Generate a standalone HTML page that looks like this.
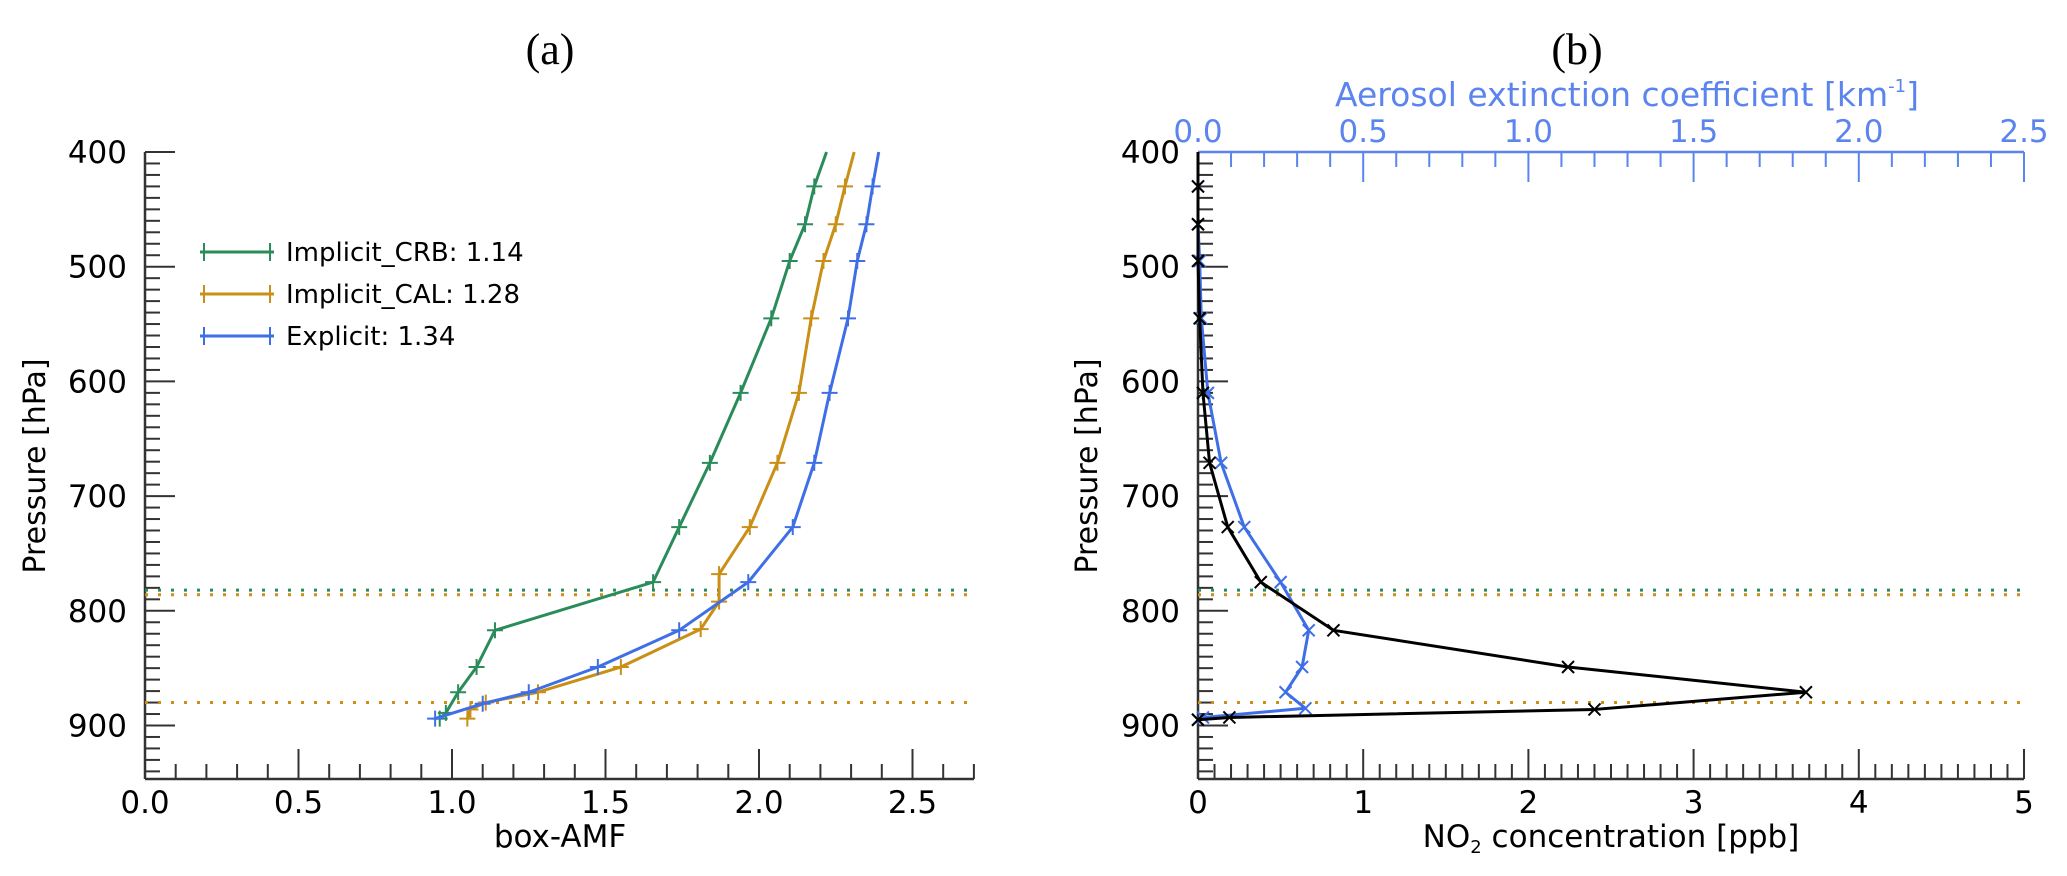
<!DOCTYPE html>
<html><head><meta charset="utf-8"><style>
html,body{margin:0;padding:0;background:#fff;}
svg{display:block;font-family:"DejaVu Sans","Liberation Sans",sans-serif;}
</style></head><body>
<svg id="fig" width="2067" height="876" viewBox="0 0 2067 876" xmlns="http://www.w3.org/2000/svg">
<text x="550" y="64" font-family="Liberation Serif, serif" font-size="44" text-anchor="middle">(a)</text>
<text x="1577" y="64" font-family="Liberation Serif, serif" font-size="44" text-anchor="middle">(b)</text>
</svg>
<script>
// ---- Data ----
const amfCrbP = [400,430,463,495,545,610,671,727,775,817,849,871,889,894];
const amfCrbX = [2.22,2.18,2.15,2.10,2.04,1.94,1.84,1.74,1.655,1.14,1.08,1.02,0.98,0.96];
const amfCalP = [400,430,463,495,545,610,671,727,768,792,816,849,871,880,886,894];
const amfCalX = [2.31,2.28,2.25,2.21,2.17,2.13,2.06,1.97,1.87,1.87,1.81,1.55,1.28,1.11,1.06,1.05];
const amfExpP = [400,430,463,495,545,610,671,727,775,817,849,871,881,894];
const amfExpX = [2.39,2.37,2.35,2.32,2.29,2.23,2.18,2.11,1.965,1.74,1.475,1.25,1.10,0.945];
const legendLabels = ["Implicit_CRB: 1.14","Implicit_CAL: 1.28","Explicit: 1.34"];
const no2P = [400,430,463,495,545,610,671,727,775,817,849,871,886,893,895];
const no2X = [0.0,0.0,0.0,0.0,0.01,0.03,0.07,0.18,0.38,0.82,2.24,3.68,2.40,0.19,0.0];
const aerP = [400,430,463,495,545,610,671,727,775,817,849,871,885,893,895];
const aerX = [0.0,0.0,0.0,0.005,0.01,0.03,0.07,0.14,0.25,0.335,0.315,0.265,0.325,0.015,0.0];
const cloudLines = [{p:782,c:"#2a8c5a"},{p:786,c:"#c98f16"},{p:880,c:"#c98f16"}];
const yTicks = [400,500,600,700,800,900];
const amfTicks = ["0.0","0.5","1.0","1.5","2.0","2.5"];
const no2Ticks = ["0","1","2","3","4","5"];
const aerTicks = ["0.0","0.5","1.0","1.5","2.0","2.5"];

const NS="http://www.w3.org/2000/svg";
const svg=document.getElementById('fig');
const GREEN="#2a8c5a", ORANGE="#c98f16", BLUE="#3f6fe6", AX="#333", AXB="#5b84ee";
const Y0=152, PXP=1.147, YB=779;
function yScale(p){return Y0+(p-400)*PXP;}
function ax(x0,x1,v0,v1){return v=>x0+(v-v0)/(v1-v0)*(x1-x0);}
const xa=ax(145,145+307,0,1), xn=ax(1198,2024,0,5), xe=ax(1198,2024,0,2.5);
function mk(tag,attrs,parent){const e=document.createElementNS(NS,tag);for(const k in attrs)e.setAttribute(k,attrs[k]);(parent||svg).appendChild(e);return e;}
function line(x1,y1,x2,y2,c,w,g){return mk('line',{x1,y1,x2,y2,stroke:c,'stroke-width':w||2},g);}
function txt(x,y,s,size,anchor,fill,g){const t=mk('text',{x,y,'font-size':size,'text-anchor':anchor||'middle',fill:fill||'#000'},g);t.textContent=s;return t;}

function panelAxes(name,x0,x1,xScaleFn,ticks,maxV,minorStep,xlabel,ylabelX){
  const g=mk('g',{});
  
  
  line(x0,Y0,x0,YB,AX,2.5,g);
  line(x0,YB,x1,YB,AX,2.5,g);
  for(let p=400;p<=940;p+=10){const y=yScale(p);const maj=p%100===0;line(x0,y,x0+(maj?30:15),y,AX,2,g);}
  yTicks.forEach(p=>{const t=txt(x0-18,yScale(p)+11,String(p),31,'end','#000',g);
    });
  const n=Math.round(maxV/minorStep);
  for(let i=1;i<=n;i++){const v=i*minorStep;const x=xScaleFn(v);const maj=Math.abs(v/(maxV>3?1:0.5)-Math.round(v/(maxV>3?1:0.5)))<1e-6;line(x,YB,x,YB-(maj?30:15),AX,2,g);}
  ticks.forEach(s=>{const t=txt(xScaleFn(parseFloat(s)),813,s,31,'middle','#000',g);
    });
  const yl=txt(0,0,'Pressure [hPa]',30,'middle','#000',g);
  yl.setAttribute('transform','translate('+ylabelX+',466) rotate(-90)');
  
  
  return g;
}
panelAxes('panel-a',145,974,xa,amfTicks,2.7,0.1,'box-AMF',45);
const xl1=txt(560,847,'box-AMF',31);


panelAxes('panel-b',1198,2024,xn,no2Ticks,5,0.1,'',1097);
const xl2=mk('text',{x:1611,y:847,'font-size':31,'text-anchor':'middle'});
xl2.innerHTML='NO<tspan font-size="18" dy="6">2</tspan><tspan dy="-6"> concentration [ppb]</tspan>';



// top aerosol axis
const gt=mk('g',{});


line(1198,Y0,2024,Y0,AXB,2.5,gt);
for(let i=1;i<=25;i++){const v=i*0.1;const x=xe(v);const maj=i%5===0;line(x,Y0,x,Y0+(maj?30:15),AXB,2,gt);}
aerTicks.forEach(s=>{const t=txt(xe(parseFloat(s)),142,s,31,'middle',AXB,gt);
  });
const at=mk('text',{x:1335,y:106,'font-size':33,fill:AXB});
at.innerHTML='Aerosol extinction coefficient [km<tspan font-size="18" dy="-14">-1</tspan><tspan dy="14">]</tspan>';



// cloud dotted lines
[[145,974],[1198,2024]].forEach(r=>{cloudLines.forEach(cl=>{
  const l=line(r[0],yScale(cl.p),r[1],yScale(cl.p),cl.c,3);
  l.setAttribute('stroke-dasharray','3 10');
  
  
});});

function series(name,P,X,xs,color,marker,w){
  const g=mk('g',{});
  
  
  const pts=P.map((p,i)=>[xs(X[i]),yScale(p)]);
  mk('polyline',{points:pts.map(q=>q.join(',')).join(' '),fill:'none',stroke:color,'stroke-width':w||3,'stroke-linejoin':'round'},g);
  pts.forEach((q,i)=>{if(i===0)return;
    if(marker==='+'){line(q[0]-8,q[1],q[0]+8,q[1],color,2,g);line(q[0],q[1]-8,q[0],q[1]+8,color,2,g);}
    else{line(q[0]-6,q[1]-6,q[0]+6,q[1]+6,color,2,g);line(q[0]-6,q[1]+6,q[0]+6,q[1]-6,color,2,g);}
  });
}
series('series-implicit-crb',amfCrbP,amfCrbX,xa,GREEN,'+');
series('series-implicit-cal',amfCalP,amfCalX,xa,ORANGE,'+');
series('series-explicit',amfExpP,amfExpX,xa,BLUE,'+');
series('series-aerosol-extinction',aerP,aerX,xe,BLUE,'x');
series('series-no2',no2P,no2X,xn,'#000','x');

// legend
const lg=mk('g',{});


[GREEN,ORANGE,BLUE].forEach((c,i)=>{
  const y=252+i*42;
  const e=mk('g',{},lg);
  
  
  line(200,y,274,y,c,3,e);line(204,y-9,204,y+9,c,2,e);line(270,y-9,270,y+9,c,2,e);
  txt(286,y+9,legendLabels[i],26,'start','#000',e);
});
</script>
</body></html>
